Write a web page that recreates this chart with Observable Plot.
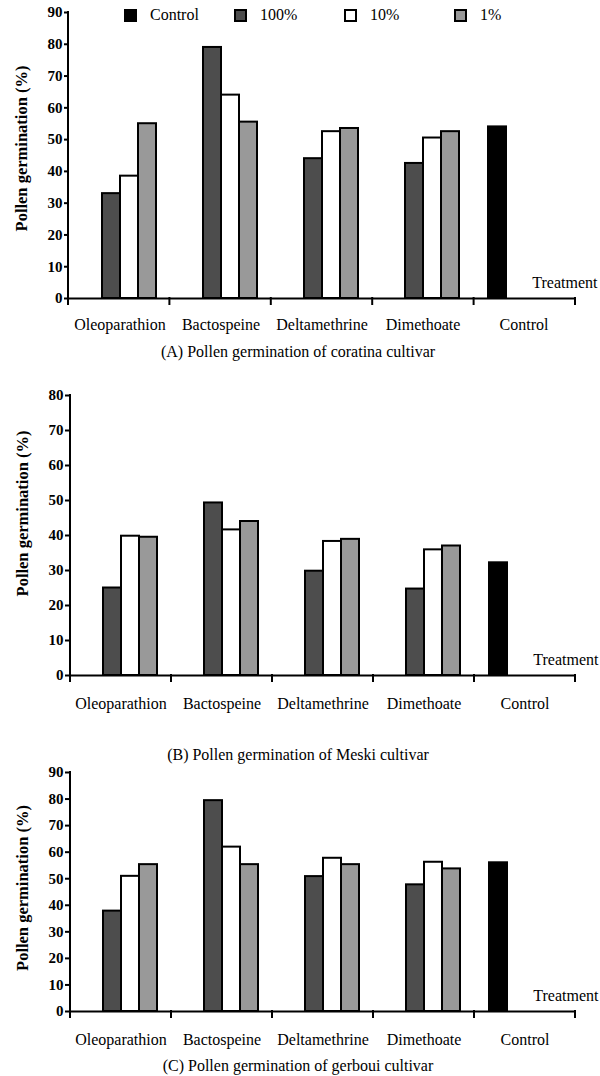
<!DOCTYPE html>
<html>
<head>
<meta charset="utf-8">
<script src="https://cdn.jsdelivr.net/npm/d3@7"></script>
<script src="https://cdn.jsdelivr.net/npm/@observablehq/plot@0.6"></script>
<style>
  body { margin: 0; background: #fff; font-family: "Liberation Serif", "Times New Roman", serif; color: #000; }
  #wrap { position: relative; width: 600px; height: 1076px; overflow: hidden; background: #fff; }
  .panel { position: absolute; left: 0; }
  .caption { position: absolute; left: 0; width: 596px; text-align: center; font-size: 16px; line-height: 18px; }
  .legend { position: absolute; top: 6px; left: 124px; display: flex; }
  .legend .item { width: 110px; display: flex; align-items: center; font-size: 16px; line-height: 18px; }
  .legend .sw { width: 13px; height: 13px; box-sizing: border-box; border: 2px solid #000; margin-right: 13px; }
  svg g[aria-label^="y-axis"] text { font-weight: bold; font-size: 15px; }
  svg g[aria-label="y-axis label"] text { font-size: 16.5px; }
  svg g[aria-label^="y-axis tick"] line, svg g[aria-label^="y-axis tick"] path { stroke-width: 2px; }
</style>
</head>
<body>
<div id="wrap"></div>
<script>
// ---- data ----
const treatments = ["Oleoparathion", "Bactospeine", "Deltamethrine", "Dimethoate", "Control"];
const series = ["Control", "100%", "10%", "1%"];
const seriesColors = ["#000000", "#4d4d4d", "#ffffff", "#999999"];

// (A) coratina
const coratina100 = [33, 79, 44, 42.5];
const coratina10 = [38.5, 64, 52.5, 50.5];
const coratina1 = [55, 55.5, 53.5, 52.5];
const coratinaControl = 54;

// (B) Meski
const meski100 = [25, 49.3, 29.8, 24.7];
const meski10 = [39.8, 41.6, 38.3, 35.9];
const meski1 = [39.5, 44, 38.9, 37];
const meskiControl = 32.2;

// (C) gerboui
const gerboui100 = [37.8, 79.4, 50.8, 47.7];
const gerboui10 = [50.9, 61.9, 57.7, 56.2];
const gerboui1 = [55.3, 55.3, 55.3, 53.7];
const gerbouiControl = 56;

const captions = [
  "(A) Pollen germination of coratina cultivar",
  "(B) Pollen germination of Meski cultivar",
  "(C) Pollen germination of gerboui cultivar"
];
const yLabel = "Pollen germination (%)";
const xLabel = "Treatment";

// ---- layout ----
const wrap = document.getElementById("wrap");

function buildPanel(v100, v10, v1, vControl, yMax, lay) {
  const data = [];
  treatments.slice(0, 4).forEach((t, i) => {
    data.push({treatment: t, series: "100%", value: v100[i]});
    data.push({treatment: t, series: "10%", value: v10[i]});
    data.push({treatment: t, series: "1%", value: v1[i]});
  });
  data.push({treatment: "Control", series: "Control", value: vControl});

  const chart = Plot.plot({
    width: 600,
    height: lay.height,
    marginTop: lay.marginTop,
    marginBottom: lay.marginBottom,
    marginLeft: lay.marginLeft,
    marginRight: 25,
    style: {fontFamily: "Liberation Serif, serif", fontSize: "16px", color: "#000", background: "transparent", overflow: "visible"},
    fx: {domain: treatments, padding: 0, axis: "bottom", tickSize: 0, tickPadding: lay.tickPad, label: null},
    x: {domain: series, paddingInner: 0, paddingOuter: 0.67, axis: null},
    y: {domain: [0, yMax], ticks: d3.range(0, yMax + 1, 10), tickSize: 5, tickPadding: 2,
        label: yLabel, labelAnchor: "center", labelOffset: 54, labelArrow: "none"},
    color: {domain: series, range: seriesColors},
    marks: [
      Plot.barY(data, {fx: "treatment", x: "series", y: "value", fill: "series", stroke: "#000", strokeWidth: 2}),
      Plot.ruleY([0], {stroke: "#000", strokeWidth: 2}),
      Plot.text([{treatment: "Control", label: xLabel}], {fx: "treatment", text: "label", frameAnchor: "bottom-right",
        textAnchor: "end", dx: 23, dy: -11, fontSize: 16})
    ]
  });

  // axis line and band-boundary ticks, from the plot's own scales
  const fxs = chart.scale("fx"), ys = chart.scale("y");
  const r0 = fxs.range[0], r1 = fxs.range[1], n = fxs.domain.length;
  const bounds = d3.range(n + 1).map(i => r0 + i * (r1 - r0) / n);
  const yScale = d3.scaleLinear(ys.domain, ys.range);
  const y0 = yScale(0);
  const g = d3.select(chart).append("g").attr("stroke", "#000").attr("stroke-width", 2).attr("stroke-linecap", "square");
  g.selectAll("line.b").data(bounds).join("line").attr("class", "b")
    .attr("x1", d => d).attr("x2", d => d).attr("y1", y0).attr("y2", y0 + 6);
  g.append("line").attr("x1", bounds[0]).attr("x2", bounds[0]).attr("y1", y0).attr("y2", yScale(yMax));

  // nudge the y-axis title along the axis as in the reference
  const lab = d3.select(chart).select('g[aria-label="y-axis label"]');
  if (!lab.empty()) {
    const t = lab.attr("transform") || "";
    lab.attr("transform", `translate(0,${lay.labelShift}) ${t}`);
  }

  const div = document.createElement("div");
  div.className = "panel";
  div.style.top = lay.top + "px";
  div.appendChild(chart);
  wrap.appendChild(div);

  const cap = document.createElement("div");
  cap.className = "caption";
  cap.style.top = lay.capTop + "px";
  cap.textContent = lay.caption;
  wrap.appendChild(cap);
}

buildPanel(coratina100, coratina10, coratina1, coratinaControl, 90,
  {top: 0, height: 340, marginTop: 12, marginBottom: 42, marginLeft: 68, tickPad: 20, capTop: 343, labelShift: -7, caption: captions[0]});
buildPanel(meski100, meski10, meski1, meskiControl, 80,
  {top: 380, height: 337, marginTop: 15, marginBottom: 42, marginLeft: 70, tickPad: 22, capTop: 746, labelShift: -22, caption: captions[1]});
buildPanel(gerboui100, gerboui10, gerboui1, gerbouiControl, 90,
  {top: 760, height: 293, marginTop: 12, marginBottom: 42, marginLeft: 70, tickPad: 22, capTop: 1057, labelShift: -4, caption: captions[2]});

// legend
const legend = document.createElement("div");
legend.className = "legend";
series.forEach((s, i) => {
  const item = document.createElement("div");
  item.className = "item";
  const sw = document.createElement("div");
  sw.className = "sw";
  sw.style.background = seriesColors[i];
  const lab = document.createElement("span");
  lab.textContent = s;
  item.appendChild(sw);
  item.appendChild(lab);
  legend.appendChild(item);
});
wrap.appendChild(legend);
</script>
</body>
</html>
